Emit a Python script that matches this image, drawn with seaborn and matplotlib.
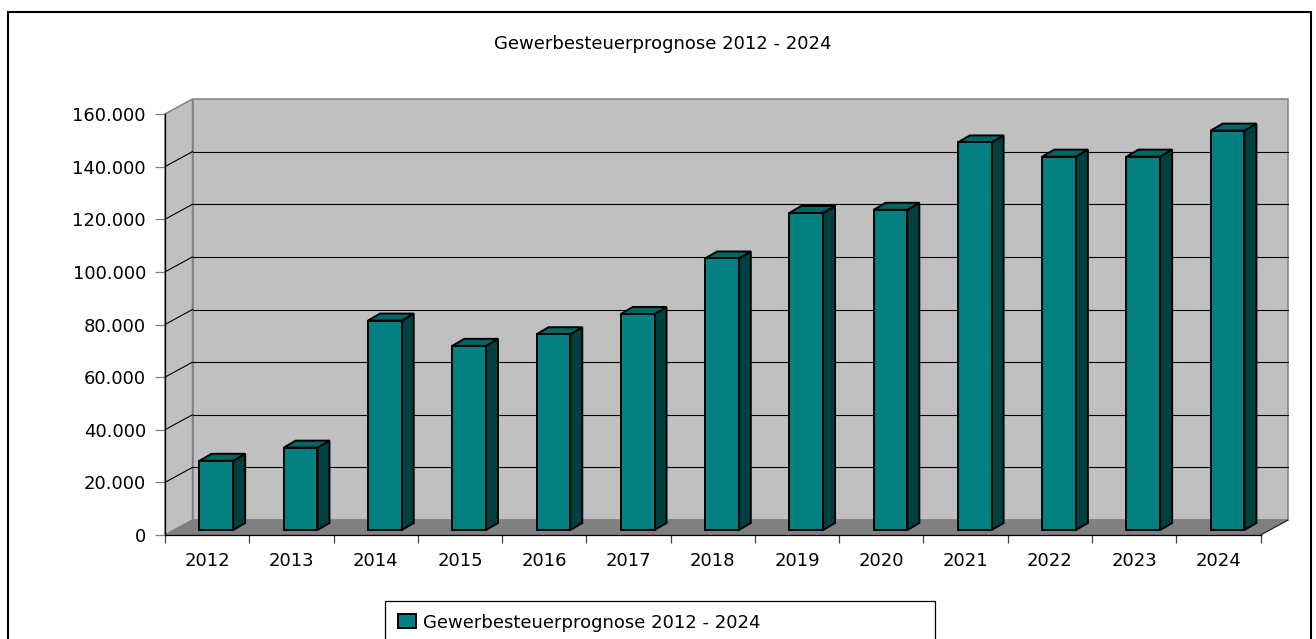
import matplotlib
matplotlib.use("Agg")
import matplotlib.pyplot as plt
import seaborn as sns
from matplotlib.patches import Polygon, Rectangle
from matplotlib.lines import Line2D
from matplotlib.transforms import offset_copy
from matplotlib.ticker import FuncFormatter, FixedLocator

# Daten
jahre = ["2012", "2013", "2014", "2015", "2016", "2017", "2018",
         "2019", "2020", "2021", "2022", "2023", "2024"]
werte = [26300, 31300, 79600, 70000, 74400, 82100, 103200,
         120500, 121700, 147300, 141900, 141900, 151800]
titel = "Gewerbesteuerprognose 2012 - 2024"
y_ticks = [0, 20000, 40000, 60000, 80000, 100000, 120000, 140000, 160000]

W, H = 1316, 639
sns.set_style("white")
plt.rcParams["font.family"] = ["DejaVu Sans"]
plt.rcParams["text.color"] = "black"
FS = 13

fig = plt.figure(figsize=(W / 100, H / 100), dpi=100)
ax = fig.add_axes([165 / W, (H - 535) / H, (1260.5 - 165) / W, (535 - 114) / H])
ax.patch.set_alpha(0)

sns.barplot(x=jahre, y=werte, color="#008080", saturation=1, width=0.4,
            edgecolor="black", linewidth=1.4, label=titel, ax=ax, zorder=5)
if ax.get_legend() is not None:
    ax.get_legend().remove()
ax.set_xlim(-0.5, len(jahre) - 0.5)
ax.set_ylim(0, 160000)

# 3D-Tiefe in Pixeln
D = (27.5, 15.0)          # Tiefe der Wände
BO = (9.2, 5.0)           # Lage der Säulen in der Tiefe
BD = (12.0, 7.0)          # Tiefe der Säulen

to_fig = fig.transFigure.inverted()


def pix(x, y, dx=0.0, dy=0.0):
    px, py = ax.transData.transform((x, y))
    return (px + dx, py + dy)


def poly(pts, **kw):
    pts = to_fig.transform(pts)
    p = Polygon(pts, closed=True, transform=fig.transFigure, clip_on=False, **kw)
    ax.add_artist(p)


def line(p1, p2, **kw):
    a, b = to_fig.transform([p1, p2])
    ax.add_artist(Line2D([a[0], b[0]], [a[1], b[1]], transform=fig.transFigure,
                         clip_on=False, **kw))


x0, x1 = -0.5, len(jahre) - 0.5
# Rückwand, Seitenwand, Boden
poly([pix(x0, 0, *D), pix(x1, 0, *D), pix(x1, 160000, *D), pix(x0, 160000, *D)],
     facecolor="#C0C0C0", edgecolor="#808080", lw=1.1, zorder=0)
poly([pix(x0, 0), pix(x0, 0, *D), pix(x0, 160000, *D), pix(x0, 160000)],
     facecolor="#C0C0C0", edgecolor="#808080", lw=1.1, zorder=0)
poly([pix(x0, 0), pix(x1, 0), pix(x1, 0, *D), pix(x0, 0, *D)],
     facecolor="#808080", edgecolor="#808080", lw=0.8, zorder=0.5)
line(pix(x1, 0), pix(x1, 0, *D), color="#202020", lw=0.8, zorder=1)

for v in y_ticks[1:-1]:
    line(pix(x0, v, *D), pix(x1, v, *D), color="black", lw=0.8, zorder=1)
    line(pix(x0, v), pix(x0, v, *D), color="black", lw=0.8, zorder=1)

# Säulen: Vorderseite verschieben, Seite und Deckel ergänzen
shift = offset_copy(ax.transData, fig=fig, x=BO[0], y=BO[1], units="dots")
for p in ax.patches:
    if not isinstance(p, Rectangle) or p.get_height() <= 0:
        continue
    p.set_transform(shift)
    p.set_clip_on(False)
    xl, xr, h = p.get_x(), p.get_x() + p.get_width(), p.get_height()
    rb = pix(xr, 0, *BO)
    rt = pix(xr, h, *BO)
    lt = pix(xl, h, *BO)
    poly([rb, (rb[0] + BD[0], rb[1] + BD[1]), (rt[0] + BD[0], rt[1] + BD[1]), rt],
         facecolor="#004040", edgecolor="black", lw=1.4, zorder=4)
    poly([lt, rt, (rt[0] + BD[0], rt[1] + BD[1]), (lt[0] + BD[0], lt[1] + BD[1])],
         facecolor="#006666", edgecolor="black", lw=1.4, zorder=4)

# Achsen
for s in ["top", "right"]:
    ax.spines[s].set_visible(False)
for s in ["left", "bottom"]:
    ax.spines[s].set_color("black")
    ax.spines[s].set_linewidth(0.9)
    ax.spines[s].set_zorder(6)

ax.set_yticks(y_ticks)
ax.yaxis.set_major_formatter(FuncFormatter(lambda v, _: f"{int(v):,}".replace(",", ".")))
ax.tick_params(axis="y", direction="out", length=7.2, width=0.9, color="#808080",
               pad=6.5, labelsize=FS, labelcolor="black", left=True)
ax.tick_params(axis="x", which="major", length=0, pad=12.5, labelsize=FS,
               labelcolor="black", bottom=True)
ax.xaxis.set_minor_locator(FixedLocator([i - 0.5 for i in range(len(jahre) + 1)]))
ax.tick_params(axis="x", which="minor", direction="out", length=5.8, width=0.9,
               color="#404040", bottom=True)
ax.set_xlabel("")
ax.set_ylabel("")
ax.grid(False)

# Titel
fig.text(663 / W, 1 - 44 / H, titel, ha="center", va="center", fontsize=FS,
         color="black")

# Legende
handles, labels = ax.get_legend_handles_labels()
leg = fig.legend(handles, labels, loc="upper left",
                 bbox_to_anchor=(385 / W, 1 - 601 / H, 550 / W, 0), mode="expand",
                 frameon=True, fancybox=False, edgecolor="black", framealpha=1,
                 borderpad=0.7, handlelength=1.0, handleheight=0.8,
                 handletextpad=0.4, borderaxespad=0, fontsize=FS,
                 labelcolor="black")
leg.get_frame().set_linewidth(0.9)

# Rahmen
fig.add_artist(Rectangle((8 / W, -0.2), (1311 - 8) / W, (H - 12) / H + 0.2,
                         transform=fig.transFigure, fill=False, edgecolor="black",
                         lw=1.5))

fig.savefig("out.png", dpi=100)
